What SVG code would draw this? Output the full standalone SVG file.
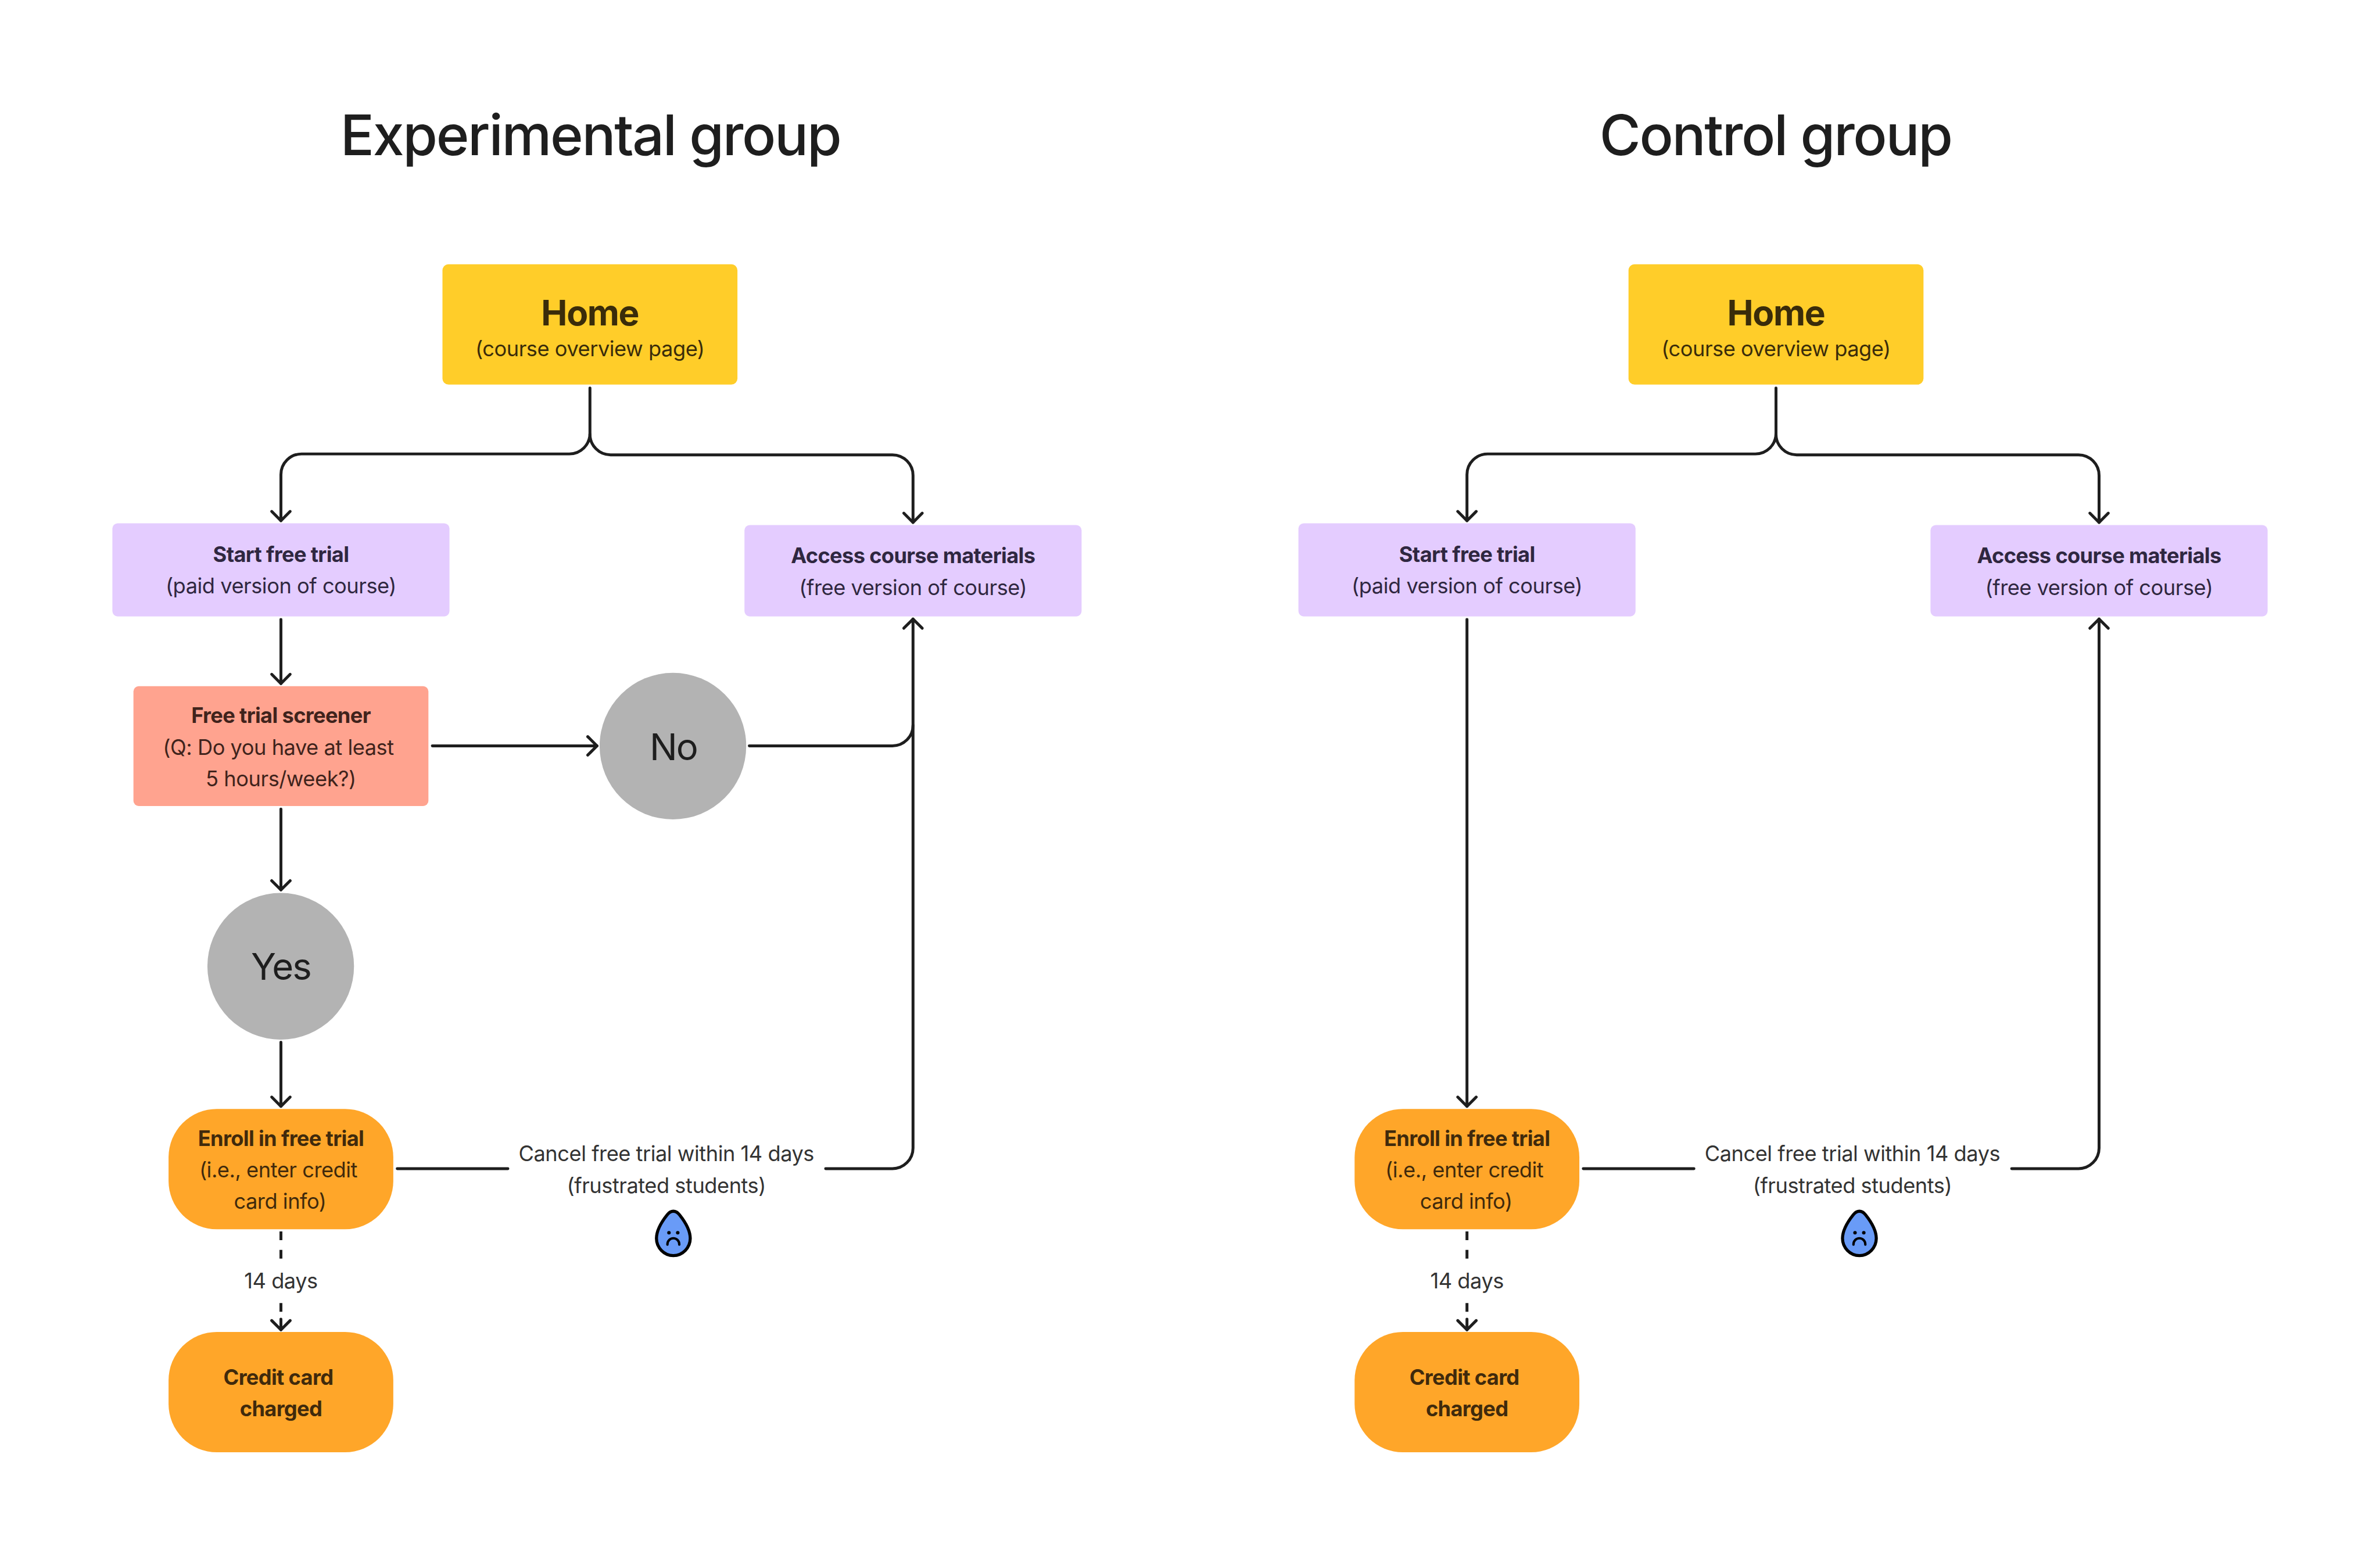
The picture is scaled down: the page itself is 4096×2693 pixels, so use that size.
<svg xmlns="http://www.w3.org/2000/svg" width="4096" height="2693" viewBox="0 0 4096 2693">
<defs>
<style>
text{font-family:Inter,"Liberation Sans",sans-serif;text-anchor:middle;letter-spacing:-.65px}
.t{font-size:128px;font-weight:500;fill:#1e1e1e;letter-spacing:-3.1px}
.h{font-size:80px;font-weight:700;fill:#3a2c0a;letter-spacing:-1.8px}
.y{font-size:48px;fill:#3a2c0a}
.pb{font-size:48px;font-weight:700;fill:#2f2740;letter-spacing:-.9px}
.pr{font-size:48px;fill:#2f2740}
.sb{font-size:48px;font-weight:700;fill:#40231c;letter-spacing:-.9px}
.sr{font-size:48px;fill:#40231c}
.ob{font-size:48px;font-weight:700;fill:#402a0c;letter-spacing:-.9px}
.or{font-size:48px;fill:#402a0c}
.c{font-size:84px;fill:#1e1e1e;letter-spacing:-2.6px}
.l{font-size:48px;fill:#333}
.yel{fill:#ffcd29}.pur{fill:#e4ccff}.sal{fill:#ffa38f}.org{fill:#ffa629}.gry{fill:#b3b3b3}
.ln{fill:none;stroke:#1e1e1e;stroke-width:6.6;stroke-linecap:round;stroke-linejoin:round}
.da{stroke-linecap:butt}
.dr{fill:#699bf7;stroke:#000;stroke-width:7;stroke-linejoin:round}
.fc{fill:none;stroke:#000;stroke-width:5.5;stroke-linecap:round}
</style>
<marker id="a" markerUnits="userSpaceOnUse" markerWidth="60" markerHeight="60" refX="30" refY="30" orient="auto" overflow="visible"><path d="M9 9L30 30L9 51" fill="none" stroke="#1e1e1e" stroke-width="6.6" stroke-linecap="round" stroke-linejoin="round"/></marker>
</defs>
<rect width="4096" height="2693" fill="#fff"/>
<g transform="scale(.75544)">
<text class="t" x="1345" y="353">Experimental group</text>
<text class="t" x="4045" y="353">Control group</text>
<g id="connectors">
<path class="ln" marker-end="url(#a)" d="M1344 884V987A47 47 0 0 1 1297 1034H687A47 47 0 0 0 640 1081V1186"/>
<path class="ln" marker-end="url(#a)" d="M1344 989A47 47 0 0 0 1391 1036H2033A47 47 0 0 1 2080 1083V1190"/>
<path class="ln" marker-end="url(#a)" d="M640 1411V1557"/>
<path class="ln" marker-end="url(#a)" d="M985 1699H1360"/>
<path class="ln" marker-end="url(#a)" d="M640 1843V2027"/>
<path class="ln" marker-end="url(#a)" d="M640 2374V2520"/>
<path class="ln" d="M1707 1699H2033A47 47 0 0 0 2080 1652"/>
<path class="ln" marker-end="url(#a)" d="M1881 2662H2033A47 47 0 0 0 2080 2615V1410"/>
<path class="ln" d="M905 2662H1157"/>
<path class="ln da" d="M640 2805V2825M640 2847V2867M640 2968V2988"/>
<path class="ln" marker-end="url(#a)" d="M640 3005V3029"/>
<path class="ln" marker-end="url(#a)" d="M4046 884V987A47 47 0 0 1 3999 1034H3389A47 47 0 0 0 3342 1081V1186"/>
<path class="ln" marker-end="url(#a)" d="M4046 989A47 47 0 0 0 4093 1036H4735A47 47 0 0 1 4782 1083V1190"/>
<path class="ln" marker-end="url(#a)" d="M3342 1411V2520"/>
<path class="ln" marker-end="url(#a)" d="M4583 2662H4735A47 47 0 0 0 4782 2615V1410"/>
<path class="ln" d="M3607 2662H3859"/>
<path class="ln da" d="M3342 2805V2825M3342 2847V2867M3342 2968V2988"/>
<path class="ln" marker-end="url(#a)" d="M3342 3005V3029"/>
</g>
<g id="e-home"><rect class="yel" x="1008" y="602" width="672" height="274" rx="14"/><text class="h" x="1344" y="741">Home</text><text class="y" x="1344" y="811">(course overview page)</text></g>
<g id="e-start"><rect class="pur" x="256" y="1192" width="768" height="212" rx="12"/><text class="pb" x="640" y="1280">Start free trial</text><text class="pr" x="640" y="1352">(paid version of course)</text></g>
<g id="e-access"><rect class="pur" x="1696" y="1196" width="768" height="208" rx="12"/><text class="pb" x="2080" y="1283">Access course materials</text><text class="pr" x="2080" y="1355">(free version of course)</text></g>
<g id="e-screener"><rect class="sal" x="304" y="1563" width="672" height="273" rx="12"/><text class="sb" x="640" y="1647">Free trial screener</text><text class="sr" x="634" y="1719">(Q: Do you have at least</text><text class="sr" x="640" y="1791">5 hours/week?)</text></g>
<g id="e-no"><circle class="gry" cx="1533" cy="1699.5" r="167"/><text class="c" x="1534" y="1731">No</text></g>
<g id="e-yes"><circle class="gry" cx="639.5" cy="2201" r="167"/><text class="c" x="640" y="2232">Yes</text></g>
<g id="e-enroll"><rect class="org" x="384" y="2526" width="512" height="274" rx="110"/><text class="ob" x="640" y="2610">Enroll in free trial</text><text class="or" x="634" y="2682">(i.e., enter credit</text><text class="or" x="638" y="2753">card info)</text></g>
<g id="e-charged"><rect class="org" x="384" y="3034" width="512" height="274" rx="110"/><text class="ob" x="634" y="3154">Credit card</text><text class="ob" x="640" y="3226">charged</text></g>
<g id="e-14"><text class="l" x="640" y="2935">14 days</text></g>
<g id="e-cancel"><text class="l" x="1518" y="2645">Cancel free trial within 14 days</text><text class="l" x="1518" y="2717">(frustrated students)</text></g>
<g id="e-drop"><path class="dr" d="M1534 2759C1528 2759 1524 2762 1520 2767C1512 2777 1495.500 2798 1495.500 2821C1495.500 2842 1513 2860 1534 2860C1555 2860 1572.500 2842 1572.500 2821C1572.500 2798 1556 2777 1548 2767C1544 2762 1540 2759 1534 2759Z"/><circle cx="1524" cy="2808" r="4"/><circle cx="1544" cy="2808" r="4"/><path class="fc" d="M1520.500 2835V2834A13.500 13.500 0 0 1 1547.500 2834V2835"/></g>
<g id="c-home"><rect class="yel" x="3710" y="602" width="672" height="274" rx="14"/><text class="h" x="4046" y="741">Home</text><text class="y" x="4046" y="811">(course overview page)</text></g>
<g id="c-start"><rect class="pur" x="2958" y="1192" width="768" height="212" rx="12"/><text class="pb" x="3342" y="1280">Start free trial</text><text class="pr" x="3342" y="1352">(paid version of course)</text></g>
<g id="c-access"><rect class="pur" x="4398" y="1196" width="768" height="208" rx="12"/><text class="pb" x="4782" y="1283">Access course materials</text><text class="pr" x="4782" y="1355">(free version of course)</text></g>
<g id="c-enroll"><rect class="org" x="3086" y="2526" width="512" height="274" rx="110"/><text class="ob" x="3342" y="2610">Enroll in free trial</text><text class="or" x="3336" y="2682">(i.e., enter credit</text><text class="or" x="3340" y="2753">card info)</text></g>
<g id="c-charged"><rect class="org" x="3086" y="3034" width="512" height="274" rx="110"/><text class="ob" x="3336" y="3154">Credit card</text><text class="ob" x="3342" y="3226">charged</text></g>
<g id="c-14"><text class="l" x="3342" y="2935">14 days</text></g>
<g id="c-cancel"><text class="l" x="4220" y="2645">Cancel free trial within 14 days</text><text class="l" x="4220" y="2717">(frustrated students)</text></g>
<g id="c-drop" transform="translate(2702 0)"><path class="dr" d="M1534 2759C1528 2759 1524 2762 1520 2767C1512 2777 1495.500 2798 1495.500 2821C1495.500 2842 1513 2860 1534 2860C1555 2860 1572.500 2842 1572.500 2821C1572.500 2798 1556 2777 1548 2767C1544 2762 1540 2759 1534 2759Z"/><circle cx="1524" cy="2808" r="4"/><circle cx="1544" cy="2808" r="4"/><path class="fc" d="M1520.500 2835V2834A13.500 13.500 0 0 1 1547.500 2834V2835"/></g>
</g>
</svg>
